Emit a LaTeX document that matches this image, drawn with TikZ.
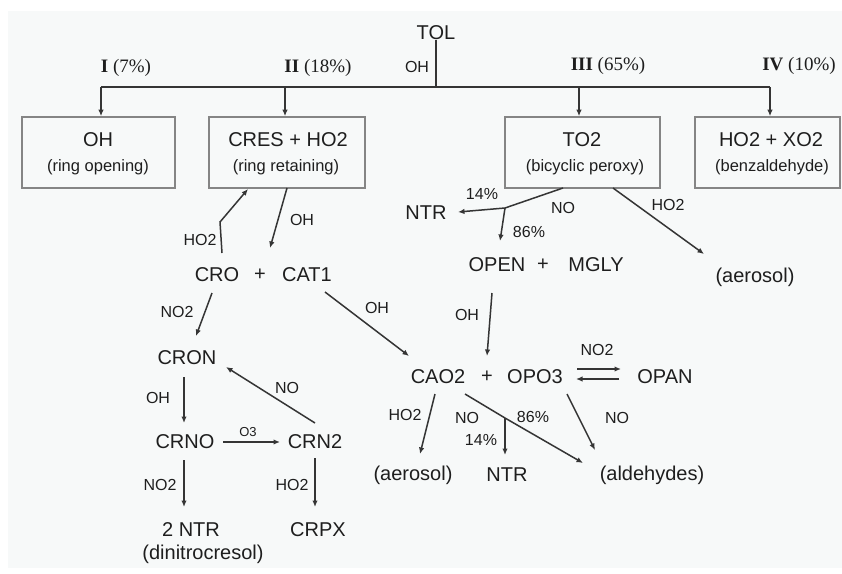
\documentclass[tikz,border=0pt]{standalone}
\usepackage{fontspec}
\setmainfont{Liberation Sans}
\newfontfamily\tnr{Liberation Serif}
\usetikzlibrary{arrows.meta}
\definecolor{ink}{HTML}{1E1E1E}
\definecolor{lineC}{HTML}{353535}
\definecolor{boxC}{HTML}{858585}
\definecolor{paper}{HTML}{F7F9F9}
\begin{document}
\begin{tikzpicture}[x=1pt,y=-1pt,
  sp/.style={inner sep=0pt, text=ink, font=\fontsize{20}{24}\selectfont},
  lab/.style={inner sep=0pt, text=ink, font=\fontsize{16}{19}\selectfont},
  subt/.style={inner sep=0pt, text=ink, font=\fontsize{16.5}{20}\selectfont},
  rom/.style={inner sep=0pt, text=ink, font=\tnr\fontsize{19}{22}\selectfont},
  box/.style={draw=boxC, line width=1.6pt, inner sep=0pt},
  ln/.style={draw=lineC, line width=1.5pt},
  arr/.style={ln, -{Latex[length=6.5pt,width=5.5pt]}},
]
\useasboundingbox (0,0) rectangle (842,573);
\fill[white] (0,0) rectangle (842,573);
\fill[paper] (8,11) rectangle (842,568);

% ---------- top ----------
\node[sp] (tol) at (436,33) {TOL};
\node[rom] (r1) at (126,68) {\textbf{I} (7\%)};
\node[rom] (r2) at (318,68) {\textbf{II} (18\%)};
\node[lab] (ohtop) at (417,67) {OH};
\node[rom] (r3) at (608,66) {\textbf{III} (65\%)};
\node[rom] (r4) at (799,66) {\textbf{IV} (10\%)};

\coordinate (j0) at (436,87);
\coordinate (j1) at (101,87);
\coordinate (j2) at (285,87);
\coordinate (j3) at (579,87);
\coordinate (j4) at (770,87);

% boxes
\node[box, minimum width=153pt, minimum height=71pt] (b1) at (98.5,152.5) {};
\node[box, minimum width=156pt, minimum height=71pt] (b2) at (287,152.5) {};
\node[box, minimum width=155pt, minimum height=71pt] (b3) at (582.5,152.5) {};
\node[box, minimum width=145pt, minimum height=71pt] (b4) at (767.5,152.5) {};

\node[sp] (b1t) at (98,140) {OH};
\node[subt] (b1s) at (98,167) {(ring opening)};
\node[sp] (b2t) at (288,140) {CRES + HO2};
\node[subt] (b2s) at (286,167) {(ring retaining)};
\node[sp] (b3t) at (582,140) {TO2};
\node[subt] (b3s) at (585,167) {(bicyclic peroxy)};
\node[sp] (b4t) at (771,140) {HO2 + XO2};
\node[subt] (b4s) at (772,167) {(benzaldehyde)};

\draw[ln] (tol.south) -- (j0);
\draw[ln] (j1) -- (j4);
\draw[arr] (j1) -- (j1 |- b1.north);
\draw[arr] (j2) -- (j2 |- b2.north);
\draw[arr] (j3) -- (j3 |- b3.north);
\draw[arr] (j4) -- (j4 |- b4.north);

% ---------- left branch ----------
\node[sp] (cro) at (217,275) {CRO};
\node[sp] (pl1) at (260,275) {+};
\node[sp] (cat1) at (307,275) {CAT1};

\coordinate (h1) at (222,253);
\coordinate (h2) at (220,222);
\coordinate (h3) at (248,189);
\draw[arr] (h1) -- (h2) -- (h3);
\node[lab] (lho2a) at (200,240) {HO2};

\coordinate (o1) at (287,188);
\coordinate (o2) at (270,248);
\draw[arr] (o1) -- (o2);
\node[lab] (loha) at (302,220) {OH};

\node[sp] (cron) at (187,358) {CRON};
\coordinate (n1) at (212,293);
\coordinate (n2) at (196,336);
\draw[arr] (n1) -- (n2);
\node[lab] (lno2a) at (177,312) {NO2};

\node[sp] (crno) at (185,442) {CRNO};
\node[sp] (crn2) at (315,442) {CRN2};
\coordinate (c1) at (184,377);
\coordinate (c2) at (184,423);
\draw[arr] (c1) -- (c2);
\node[lab] (lohb) at (158,398) {OH};

\coordinate (c3) at (315,423);
\coordinate (c4) at (226,367);
\draw[arr] (c3) -- (c4);
\node[lab] (lnoa) at (287,388) {NO};

\coordinate (c5) at (223,442);
\coordinate (c6) at (280,442);
\draw[arr] (c5) -- (c6);
\node[lab, font=\fontsize{13}{15}\selectfont] (lo3) at (248,432) {O3};

\node[sp] (ntr2) at (191,530) {2 NTR};
\node[sp] (dini) at (203,554) {(dinitrocresol)};
\node[sp] (crpx) at (318,530) {CRPX};
\coordinate (c7) at (184,460);
\coordinate (c8) at (184,507);
\draw[arr] (c7) -- (c8);
\node[lab] (lno2b) at (160,485) {NO2};
\coordinate (c9) at (315,458);
\coordinate (c10) at (315,507);
\draw[arr] (c9) -- (c10);
\node[lab] (lho2b) at (292,485) {HO2};

% ---------- right branch ----------
\node[sp] (ntra) at (426,213) {NTR};
\coordinate (t1) at (563,188);
\coordinate (tj) at (505,208);
\coordinate (t2) at (458,212);
\coordinate (t3) at (500,241);
\draw[ln] (t1) -- (tj);
\draw[arr] (tj) -- (t2);
\draw[arr] (tj) -- (t3);
\node[lab] (l14a) at (482,194) {14\%};
\node[lab] (lnob) at (563,208) {NO};
\node[lab] (l86a) at (529,232) {86\%};

\coordinate (t4) at (613,188);
\coordinate (t5) at (704,254);
\draw[arr] (t4) -- (t5);
\node[lab] (lho2c) at (668,205) {HO2};
\node[sp] (aer1) at (755,277) {(aerosol)};

\node[sp] (open) at (497,265) {OPEN};
\node[sp] (pl2) at (543,265) {+};
\node[sp] (mgly) at (596,265) {MGLY};

\coordinate (p1) at (492,293);
\coordinate (p2) at (487,356);
\draw[arr] (p1) -- (p2);
\node[lab] (lohc) at (467,315) {OH};

\coordinate (q1) at (325,292);
\coordinate (q2) at (409,356);
\draw[arr] (q1) -- (q2);
\node[lab] (lohd) at (377,308) {OH};

\node[sp] (cao2) at (438,377) {CAO2};
\node[sp] (pl3) at (487,377) {+};
\node[sp] (opo3) at (535,377) {OPO3};
\node[sp] (opan) at (665,377) {OPAN};

\coordinate (e1) at (577,369);
\coordinate (e2) at (621,369);
\coordinate (e3) at (619,379);
\coordinate (e4) at (576,379);
\draw[arr] (e1) -- (e2);
\draw[arr] (e3) -- (e4);
\node[lab] (lno2c) at (597,350) {NO2};

\coordinate (a1) at (435,394);
\coordinate (a2) at (420,454);
\draw[arr] (a1) -- (a2);
\node[lab] (lho2d) at (405,415) {HO2};

\coordinate (d1) at (465,394);
\coordinate (dj) at (505,418);
\coordinate (d2) at (583,463);
\coordinate (d3) at (505,455);
\draw[arr] (d1) -- (dj) -- (d2);
\draw[arr] (dj) -- (d3);
\node[lab] (lnoc) at (467,418) {NO};
\node[lab] (l14b) at (481,440) {14\%};
\node[lab] (l86b) at (533,417) {86\%};

\coordinate (g1) at (567,394);
\coordinate (g2) at (595,450);
\draw[arr] (g1) -- (g2);
\node[lab] (lnod) at (617,418) {NO};

\node[sp] (aer2) at (413,475) {(aerosol)};
\node[sp] (ntrb) at (507,475) {NTR};
\node[sp] (ald) at (652,475) {(aldehydes)};
\end{tikzpicture}
\end{document}
